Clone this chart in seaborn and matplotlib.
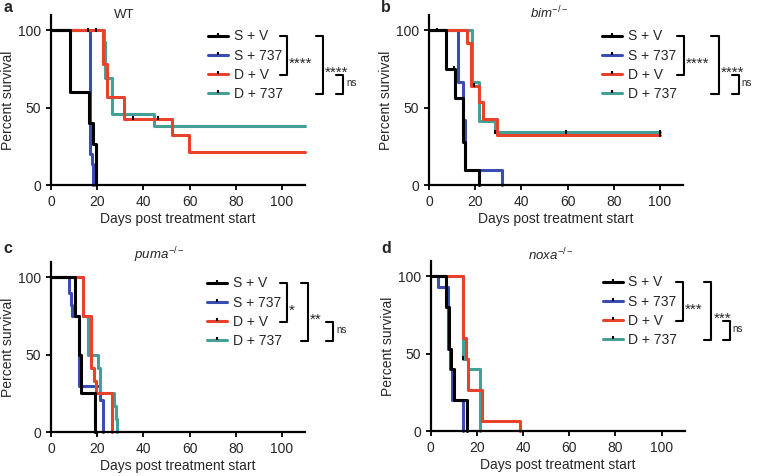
import matplotlib.pyplot as plt
import seaborn as sns
import pandas as pd
from matplotlib.lines import Line2D

# Kaplan-Meier curves (day, percent survival)
GROUPS = ['S + V', 'S + 737', 'D + V', 'D + 737']
COLORS = ['#000000', '#3b4db3', '#e8432a', '#43a096']

# a: WT
A_SV_DAYS = [0, 8.2, 16.5, 18, 19.4]
A_SV_SURV = [100, 60, 40, 26.7, 0]
A_S737_DAYS = [0, 16.8, 17.6, 18.2]
A_S737_SURV = [100, 20, 13.3, 0]
A_DV_DAYS = [0, 22.3, 24.2, 31.5, 52.6, 59.8, 110]
A_DV_SURV = [100, 78.6, 57.1, 42.9, 32.1, 21.4, 21.4]
A_D737_DAYS = [0, 22.8, 23.3, 26.2, 44.7, 110]
A_D737_SURV = [100, 92.3, 69.2, 46.2, 38.5, 38.5]
A_CENS_DAYS = [16.2, 19.3, 35.5, 46.4]
A_CENS_SURV = [100, 100, 43.5, 43.5]

# b: bim-/-
B_SV_DAYS = [0, 7.5, 11.3, 14.6, 15.4, 21.5]
B_SV_SURV = [100, 75, 56.3, 28.1, 9.4, 0]
B_S737_DAYS = [0, 12.4, 14.9, 15.5, 31.5]
B_S737_SURV = [100, 66.7, 42, 10, 0]
B_DV_DAYS = [0, 16.5, 18.2, 21.5, 23.3, 29.5, 100]
B_DV_SURV = [100, 91.7, 64.2, 53.5, 42.8, 32.1, 32.1]
B_D737_DAYS = [0, 18.7, 21.5, 28.5, 100]
B_D737_SURV = [100, 66.7, 41.7, 34.4, 34.4]
B_CENS_DAYS = [3.5, 10.8, 19.5, 28.5, 59.5, 100, 100]
B_CENS_SURV = [100, 75.7, 64.5, 34.4, 34.4, 34.4, 32.1]

# c: puma-/-
C_SV_DAYS = [0, 10.6, 12, 13.2, 19]
C_SV_SURV = [100, 75, 50, 25, 0]
C_S737_DAYS = [0, 7.8, 8.5, 9.3, 12.3, 21.2, 22.5]
C_S737_SURV = [100, 90, 82, 75, 30, 21, 0]
C_DV_DAYS = [0, 14, 17.5, 18.5, 19.6, 26.2]
C_DV_SURV = [100, 75, 41.7, 33.3, 25, 0]
C_D737_DAYS = [0, 14, 16.2, 20.5, 21.2, 27.3, 28.0, 28.7]
C_D737_SURV = [100, 75, 50, 41.7, 25, 16.7, 8.3, 0]
C_CENS_DAYS = []
C_CENS_SURV = []

# d: noxa-/-
D_SV_DAYS = [0, 6.8, 7.8, 8.7, 10, 15.9]
D_SV_SURV = [100, 80, 53.3, 40, 20, 0]
D_S737_DAYS = [0, 3.3, 7.6, 8.2, 9.2, 14.2]
D_S737_SURV = [100, 93, 53.3, 40, 20, 0]
D_DV_DAYS = [0, 14, 15.3, 16.3, 22.2, 38.5]
D_DV_SURV = [100, 60, 46.7, 26.7, 6.7, 0]
D_D737_DAYS = [0, 14, 16.2, 21.2]
D_D737_SURV = [100, 46.7, 40, 0]
D_CENS_DAYS = [14]
D_CENS_SURV = [47]

sns.set_theme(style='ticks')
plt.rcParams['font.family'] = ['Liberation Sans', 'DejaVu Sans']
plt.rcParams['mathtext.fontset'] = 'custom'
plt.rcParams['mathtext.rm'] = 'Liberation Sans'
plt.rcParams['mathtext.it'] = 'Liberation Sans:italic'

fig = plt.figure(figsize=(7.58, 4.76), dpi=100)

panels = [
    dict(rect=[0.0673, 0.6113, 0.3351, 0.3571], letter='a', lxy=(0.004, 0.984),
         title='WT', tx=0.29, ty=1.0,
         curves=[(A_SV_DAYS, A_SV_SURV), (A_S737_DAYS, A_S737_SURV),
                 (A_DV_DAYS, A_DV_SURV), (A_D737_DAYS, A_D737_SURV)],
         cens=(A_CENS_DAYS, A_CENS_SURV), leg_x=0.618,
         brackets=[(0, 2, 0.929, '****'), (0, 3, 1.071, '****'), (2, 3, 1.150, 'ns')]),
    dict(rect=[0.566, 0.6113, 0.3351, 0.3571], letter='b', lxy=(0.503, 0.984),
         title=r'$\mathit{bim}^{-/-}$', tx=0.472, ty=1.01,
         curves=[(B_SV_DAYS, B_SV_SURV), (B_S737_DAYS, B_S737_SURV),
                 (B_DV_DAYS, B_DV_SURV), (B_D737_DAYS, B_D737_SURV)],
         cens=(B_CENS_DAYS, B_CENS_SURV), leg_x=0.681,
         brackets=[(0, 2, 1.004, '****'), (0, 3, 1.140, '****'), (2, 3, 1.219, 'ns')]),
    dict(rect=[0.0673, 0.0924, 0.3351, 0.3571], letter='c', lxy=(0.004, 0.477),
         title=r'$\mathit{puma}^{-/-}$', tx=0.425, ty=1.04,
         curves=[(C_SV_DAYS, C_SV_SURV), (C_S737_DAYS, C_S737_SURV),
                 (C_DV_DAYS, C_DV_SURV), (C_D737_DAYS, C_D737_SURV)],
         cens=(C_CENS_DAYS, C_CENS_SURV), leg_x=0.614,
         brackets=[(0, 2, 0.929, '*'), (0, 3, 1.012, '**'), (2, 3, 1.110, 'ns')]),
    dict(rect=[0.5682, 0.0945, 0.3351, 0.3571], letter='d', lxy=(0.503, 0.477),
         title=r'$\mathit{noxa}^{-/-}$', tx=0.472, ty=1.035,
         curves=[(D_SV_DAYS, D_SV_SURV), (D_S737_DAYS, D_S737_SURV),
                 (D_DV_DAYS, D_DV_SURV), (D_D737_DAYS, D_D737_SURV)],
         cens=(D_CENS_DAYS, D_CENS_SURV), leg_x=0.677,
         brackets=[(0, 2, 0.993, '***'), (0, 3, 1.105, '***'), (2, 3, 1.177, 'ns')]),
]

draw_order = [1, 3, 2, 0]  # blue, teal, red, black on top
legends = []
for p in panels:
    ax = fig.add_axes(p['rect'])
    for gi in draw_order:
        days, surv = p['curves'][gi]
        df = pd.DataFrame({'day': days, 'surv': surv})
        sns.lineplot(data=df, x='day', y='surv', ax=ax, color=COLORS[gi],
                     drawstyle='steps-post', linewidth=2.2, estimator=None,
                     sort=False, clip_on=False)
    cx, cy = p['cens']
    if cx:
        ax.scatter(cx, cy, marker='|', s=10, color='black', linewidths=1.4,
                   zorder=5, clip_on=False)
    ax.set_xlim(0, 110)
    ax.set_ylim(0, 110)
    ax.set_xticks([0, 20, 40, 60, 80, 100])
    ax.set_yticks([0, 50, 100])
    ax.tick_params(axis='both', labelsize=10, length=3.5, width=1.3, color='black')
    ax.tick_params(axis='x', pad=3.5)
    ax.tick_params(axis='y', pad=3.5)
    for s in ['left', 'bottom']:
        ax.spines[s].set_linewidth(1.6)
        ax.spines[s].set_color('black')
    sns.despine(ax=ax)
    ax.set_xlabel('Days post treatment start', fontsize=10, labelpad=2)
    ax.set_ylabel('Percent survival', fontsize=10, labelpad=2)
    ax.text(p['tx'], p['ty'], p['title'], transform=ax.transAxes, ha='center',
            va='center', fontsize=9.5)
    fig.text(p['lxy'][0], p['lxy'][1], p['letter'], fontsize=11.5,
             fontweight='bold', va='center', ha='left')
    # legend handle: coloured line with a small censor tick pointing up
    handles = [Line2D([0], [0], color=c, lw=2.2, marker=2, markersize=2.2,
                      markeredgecolor='black', markeredgewidth=1.5)
               for c in COLORS]
    leg = ax.legend(handles, GROUPS, loc='upper left',
                    bbox_to_anchor=(p['leg_x'], 0.915), frameon=False,
                    fontsize=10, handlelength=1.45, handletextpad=0.4,
                    labelspacing=0.38, borderpad=0, borderaxespad=0)
    legends.append((ax, leg, p))

fig.canvas.draw()
renderer = fig.canvas.get_renderer()
arm = 0.028
for ax, leg, p in legends:
    inv = ax.transAxes.inverted()
    ys = []
    for t in leg.get_texts():
        bb = t.get_window_extent(renderer)
        ys.append(inv.transform((0, (bb.y0 + bb.y1) / 2))[1])
    for i, j, bx, lab in p['brackets']:
        y1, y2 = ys[i], ys[j]
        ax.plot([bx - arm, bx, bx, bx - arm], [y1, y1, y2, y2],
                transform=ax.transAxes, color='black', lw=1.5, clip_on=False)
        if lab == 'ns':
            ax.text(bx + 0.012, (y1 + y2) / 2 + 0.01, lab, transform=ax.transAxes,
                    fontsize=7, ha='left', va='center')
        else:
            ax.text(bx + 0.008, (y1 + y2) / 2 - 0.045, lab, transform=ax.transAxes,
                    fontsize=11, ha='left', va='center')

fig.savefig('out.png', dpi=100)
